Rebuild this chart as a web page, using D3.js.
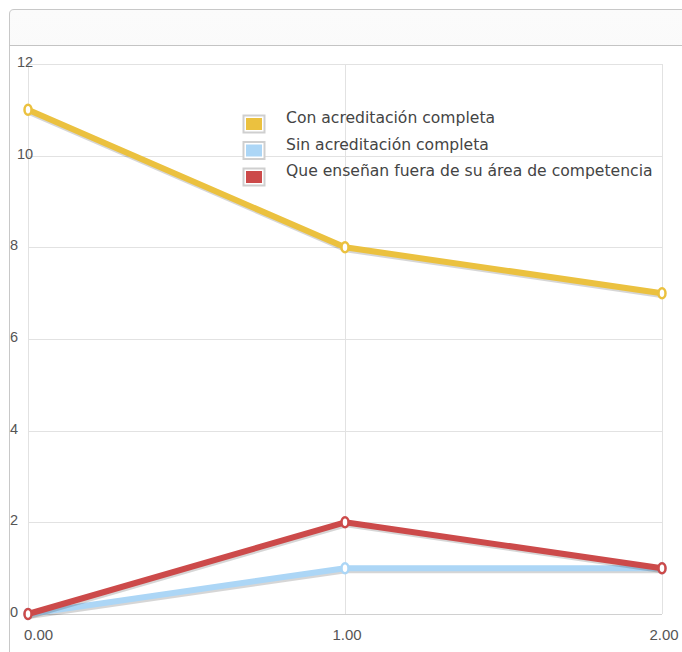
<!DOCTYPE html>
<html>
<head>
<meta charset="utf-8">
<script src="https://cdn.jsdelivr.net/npm/d3@7"></script>
<style>
  body { margin: 0; background: #fff; }
  svg { display: block; }
</style>
</head>
<body>
<div id="chart"></div>
<script>
var width = 682,
    height = 652;

// data
var xValues = [0, 1, 2];
var xTickLabels = ["0.00", "1.00", "2.00"];
var yTicks = [0, 2, 4, 6, 8, 10, 12];
var seriesNames = ["Con acreditación completa", "Sin acreditación completa", "Que enseñan fuera de su área de competencia"];
var seriesColors = ["#ebc13f", "#acd6f6", "#cc4a4a"];
var conAcreditacion = [11, 8, 7];
var sinAcreditacion = [0, 1, 1];
var fueraDeArea = [0, 2, 1];

var series = [conAcreditacion, sinAcreditacion, fueraDeArea];

var svg = d3.select("#chart")
    .append("svg")
    .attr("width", width)
    .attr("height", height);

var defs = svg.append("defs");
var grad = defs.append("linearGradient")
    .attr("id", "hdr")
    .attr("x1", 0).attr("y1", 0).attr("x2", 0).attr("y2", 1);
grad.append("stop").attr("offset", "0%").attr("stop-color", "#fbfbfb");
grad.append("stop").attr("offset", "100%").attr("stop-color", "#ededed");

// panel with header
svg.append("path")
    .attr("d", "M9.5,652 L9.5,14 Q9.5,9.5 14,9.5 L690,9.5 L690,45.5 L9.5,45.5")
    .attr("fill", "url(#hdr)")
    .attr("stroke", "none");
svg.append("path")
    .attr("d", "M9.5,652 L9.5,14 Q9.5,9.5 14,9.5 L690,9.5")
    .attr("fill", "none")
    .attr("stroke", "#c8c8c8");
svg.append("line")
    .attr("x1", 9.5).attr("x2", 690)
    .attr("y1", 45.5).attr("y2", 45.5)
    .attr("stroke", "#c4c4c4");

var x = d3.scaleLinear().domain([0, 2]).range([28, 662]);
var y = d3.scaleLinear().domain([0, 12]).range([614, 64]);

var grid = svg.append("g");

// horizontal grid lines
grid.selectAll(".hgrid")
    .data(yTicks)
    .enter()
    .append("line")
    .attr("x1", x(0))
    .attr("x2", x(2))
    .attr("y1", function(d) { return Math.round(y(d)) + 0.5; })
    .attr("y2", function(d) { return Math.round(y(d)) + 0.5; })
    .attr("stroke", function(d) { return d == 0 ? "#d0d0d0" : "#e2e2e2"; });

// vertical grid lines
grid.selectAll(".vgrid")
    .data(xValues)
    .enter()
    .append("line")
    .attr("x1", function(d) { return Math.round(x(d)) + 0.5; })
    .attr("x2", function(d) { return Math.round(x(d)) + 0.5; })
    .attr("y1", y(12))
    .attr("y2", y(0))
    .attr("stroke", "#e2e2e2");

// y labels
svg.selectAll(".ylab")
    .data(yTicks)
    .enter()
    .append("text")
    .attr("x", function(d) { return d >= 10 ? 17 : 10; })
    .attr("y", function(d) { return y(d) + 3; })
    .attr("font-family", "Liberation Sans, Arial, sans-serif")
    .attr("font-size", 14.5)
    .attr("fill", "#555")
    .text(function(d) { return d; });

// x labels
svg.selectAll(".xlab")
    .data(xValues)
    .enter()
    .append("text")
    .attr("x", function(d) { return d == 0 ? x(d) - 4 : x(d) + 2; })
    .attr("y", 640)
    .attr("text-anchor", function(d) { return d == 0 ? "start" : "middle"; })
    .attr("font-family", "Liberation Sans, Arial, sans-serif")
    .attr("font-size", 15)
    .attr("fill", "#555")
    .text(function(d, i) { return xTickLabels[i]; });

var line = d3.line()
    .x(function(d, i) { return x(xValues[i]); })
    .y(function(d) { return y(d); });

var lines = svg.append("g");

series.forEach(function(s, k) {
    // shadow
    lines.append("path")
        .datum(s)
        .attr("d", line)
        .attr("fill", "none")
        .attr("stroke", "rgba(0,0,0,0.16)")
        .attr("stroke-width", 5)
        .attr("transform", "translate(1,2.5)");
    lines.append("path")
        .datum(s)
        .attr("d", line)
        .attr("fill", "none")
        .attr("stroke", seriesColors[k])
        .attr("stroke-width", 6)
        .attr("stroke-linejoin", "round");
    lines.selectAll(".pt" + k)
        .data(s)
        .enter()
        .append("ellipse")
        .attr("cx", function(d, i) { return x(xValues[i]); })
        .attr("cy", function(d) { return y(d); })
        .attr("rx", 3.5)
        .attr("ry", 5)
        .attr("fill", "#fff")
        .attr("stroke", seriesColors[k])
        .attr("stroke-width", 2.5);
});

// legend
var legend = svg.append("g").attr("transform", "translate(243,115)");
var items = legend.selectAll(".item")
    .data(seriesNames)
    .enter()
    .append("g")
    .attr("transform", function(d, i) { return "translate(0," + (i * 26.5) + ")"; });

items.append("rect")
    .attr("x", 0.5).attr("y", 0.5)
    .attr("width", 21).attr("height", 17)
    .attr("fill", "#fff")
    .attr("stroke", "#cfcfcf")
    .attr("stroke-width", 2);
items.append("rect")
    .attr("x", 3).attr("y", 3)
    .attr("width", 16).attr("height", 12)
    .attr("fill", function(d, i) { return seriesColors[i]; });
items.append("text")
    .attr("x", 43)
    .attr("y", 8)
    .attr("font-family", "DejaVu Sans, Verdana, sans-serif")
    .attr("font-size", 15.6)
    .attr("fill", "#444")
    .text(function(d) { return d; });
</script>
</body>
</html>
